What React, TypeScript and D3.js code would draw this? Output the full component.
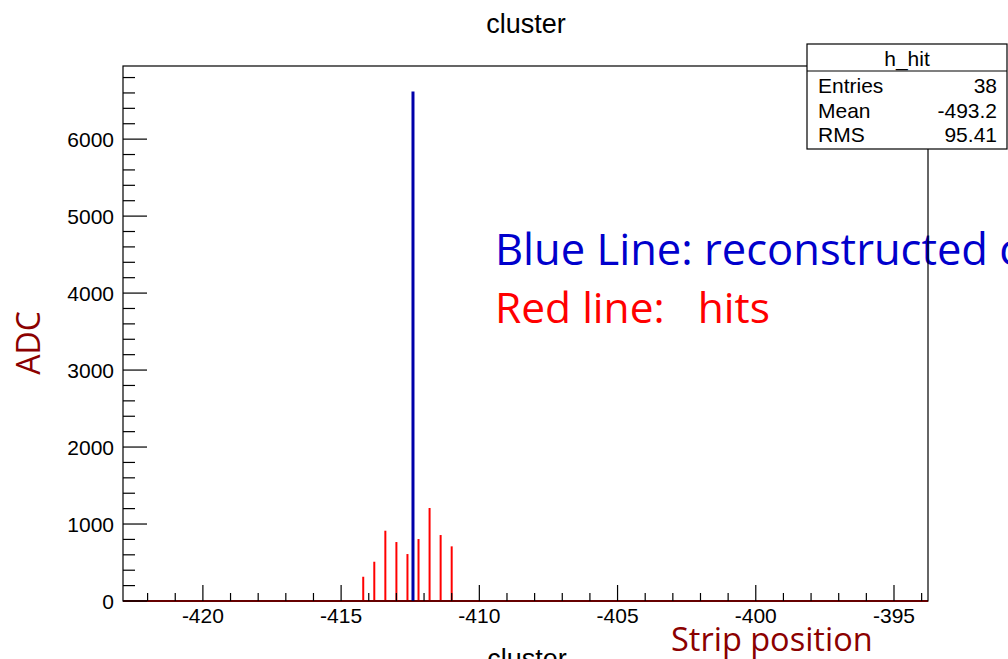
import * as d3 from "d3";

// histogram bins
const redPos = [-414.2, -413.8, -413.4, -413.0, -412.6, -412.2, -411.8, -411.4, -411.0];
const redAdc = [315, 510, 913, 766, 610, 805, 1208, 857, 710];
const bluePos = [-412.4];
const blueAdc = [6620];

const xMajor = [-420, -415, -410, -405, -400, -395];
const yMajor = [0, 1000, 2000, 3000, 4000, 5000, 6000];

const statsRows: [string, string][] = [
  ["Entries", "38"],
  ["Mean", "-493.2"],
  ["RMS", "95.41"],
];

const W = 1008;
const H = 659;
const frame = { left: 123, right: 928, top: 66, bottom: 601 };
const ROOT_FONT = "'Liberation Sans', Arial, sans-serif";
const NOTE_FONT = "'Open Sans', 'Noto Sans', sans-serif";

export default function App() {
  const x = d3.scaleLinear().domain([-422.89, -393.77]).range([frame.left, frame.right]);
  const y = d3.scaleLinear().domain([0, 6950]).range([frame.bottom, frame.top]);

  const xMinor = d3.range(-422, -393, 1).filter((v) => !xMajor.includes(v));
  const yMinor = d3.range(0, 6950, 200).filter((v) => !yMajor.includes(v));

  return (
    <svg
      width={W}
      height={H}
      style={{ position: "absolute", left: 0, top: 0, display: "block", background: "#fff" }}
    >
      <rect x={0} y={0} width={W} height={H} fill="#fff" />

      {/* title */}
      <text x={526} y={33} textAnchor="middle" fontSize={27} fontFamily={ROOT_FONT} fill="#000">
        cluster
      </text>

      {/* notes */}
      <text x={495} y={265} fontSize={43.5} fontFamily={NOTE_FONT} fill="#0000cc" style={{ whiteSpace: "pre" }}>
        {"Blue Line: reconstructed cluster"}
      </text>
      <text x={495} y={323} fontSize={42.5} fontFamily={NOTE_FONT} fill="#ff0000" style={{ whiteSpace: "pre" }}>
        {"Red line:   hits"}
      </text>

      {/* hits */}
      {redPos.map((p, i) => (
        <line
          key={`r${i}`}
          x1={x(p)}
          x2={x(p)}
          y1={y(0)}
          y2={y(redAdc[i])}
          stroke="#ff0000"
          strokeWidth={2}
        />
      ))}
      <line x1={frame.left} x2={frame.right} y1={y(0)} y2={y(0)} stroke="#ff0000" strokeWidth={2} />
      {bluePos.map((p, i) => (
        <line
          key={`b${i}`}
          x1={x(p)}
          x2={x(p)}
          y1={y(0)}
          y2={y(blueAdc[i])}
          stroke="#0000aa"
          strokeWidth={3}
        />
      ))}

      {/* frame */}
      <rect
        x={frame.left}
        y={frame.top}
        width={frame.right - frame.left}
        height={frame.bottom - frame.top}
        fill="none"
        stroke="#000"
        strokeWidth={1.2}
      />

      {/* x ticks */}
      {xMajor.map((v) => (
        <g key={`xm${v}`}>
          <line x1={x(v)} x2={x(v)} y1={frame.bottom} y2={frame.bottom - 16} stroke="#000" strokeWidth={1.2} />
          <text x={x(v)} y={623} textAnchor="middle" fontSize={21} fontFamily={ROOT_FONT} fill="#000">
            {v}
          </text>
        </g>
      ))}
      {xMinor.map((v) => (
        <line key={`xn${v}`} x1={x(v)} x2={x(v)} y1={frame.bottom} y2={frame.bottom - 8} stroke="#000" strokeWidth={1.2} />
      ))}

      {/* y ticks */}
      {yMajor.map((v) => (
        <g key={`ym${v}`}>
          <line x1={frame.left} x2={frame.left + 24} y1={y(v)} y2={y(v)} stroke="#000" strokeWidth={1.2} />
          <text x={frame.left - 9} y={y(v) + 7.5} textAnchor="end" fontSize={21} fontFamily={ROOT_FONT} fill="#000">
            {v}
          </text>
        </g>
      ))}
      {yMinor.map((v) => (
        <line key={`yn${v}`} x1={frame.left} x2={frame.left + 12} y1={y(v)} y2={y(v)} stroke="#000" strokeWidth={1.2} />
      ))}

      {/* axis titles */}
      <text x={527} y={668} textAnchor="middle" fontSize={27} fontFamily={ROOT_FONT} fill="#000">
        cluster
      </text>
      <text x={671} y={651} fontSize={32.5} fontFamily={NOTE_FONT} fill="#8b0000">
        Strip position
      </text>
      <text
        transform="translate(40,343) rotate(-90)"
        textAnchor="middle"
        fontSize={32}
        fontFamily={NOTE_FONT}
        fill="#8b0000"
      >
        ADC
      </text>

      {/* stats box */}
      <g>
        <rect x={807} y={44} width={200} height={105} fill="#fff" stroke="#000" strokeWidth={1.2} />
        <line x1={807} x2={1007} y1={71} y2={71} stroke="#000" strokeWidth={1.2} />
        <text x={907} y={66} textAnchor="middle" fontSize={21} fontFamily={ROOT_FONT} fill="#000">
          h_hit
        </text>
        {statsRows.map(([k, v], i) => (
          <g key={k}>
            <text x={818} y={93 + i * 24.5} fontSize={21} fontFamily={ROOT_FONT} fill="#000">
              {k}
            </text>
            <text x={997} y={93 + i * 24.5} textAnchor="end" fontSize={21} fontFamily={ROOT_FONT} fill="#000">
              {v}
            </text>
          </g>
        ))}
      </g>
    </svg>
  );
}
